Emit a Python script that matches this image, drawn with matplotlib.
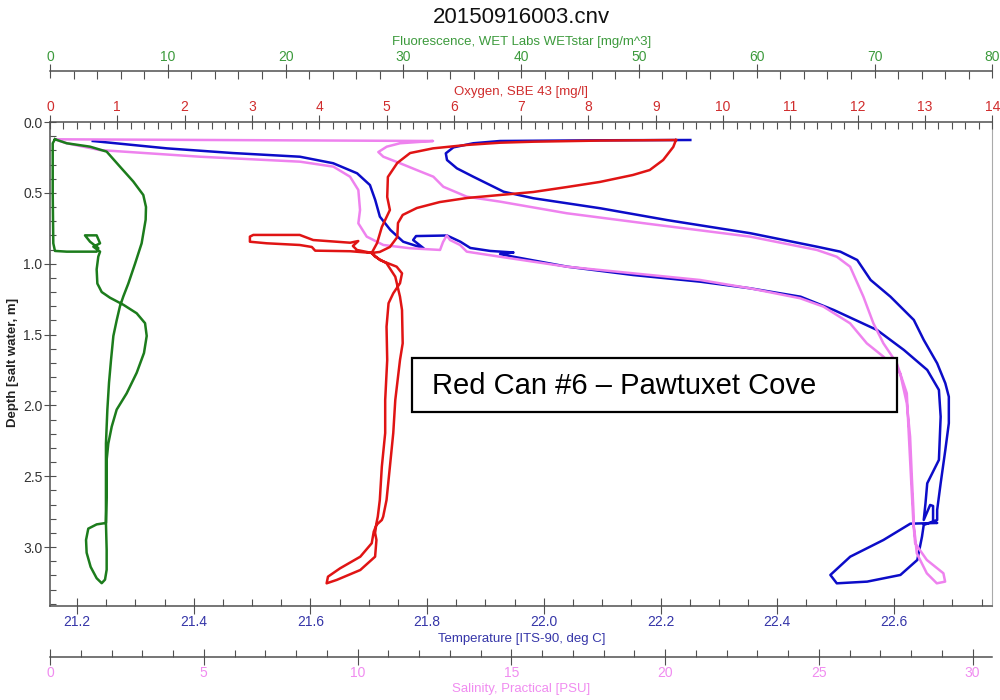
import matplotlib
matplotlib.use("Agg")
import matplotlib.pyplot as plt
from matplotlib.patches import Rectangle
from matplotlib.ticker import MultipleLocator, FormatStrFormatter

plt.rcParams['font.family'] = ['Liberation Sans', 'DejaVu Sans']

# fluorescence profile (mg/m^3) and depth (m)
fluor = [0.42, 1.42, 3.40, 4.81, 5.94, 7.07, 7.92, 8.15, 8.12, 7.78, 7.22, 6.65, 6.23, 5.94,
         5.66, 5.38, 5.18, 5.01, 4.87, 4.75, 4.75, 4.75, 4.75, 4.81, 4.81, 4.67, 4.39,
         3.96, 3.45, 3.11, 3.06, 3.25, 3.96, 4.75, 4.81, 4.81, 4.95, 5.24, 5.66, 6.51, 7.36,
         7.98, 8.21, 8.07, 7.36, 6.23, 5.09, 4.39, 4.02, 3.96, 4.10, 4.25, 3.68, 4.25, 3.96,
         2.97, 3.40, 4.10, 3.96, 3.11, 1.42, 0.42, 0.28, 0.23, 0.23, 0.42]
fluor_depth = [0.122, 0.15, 0.174, 0.209, 0.315, 0.42, 0.515, 0.60, 0.69, 0.856, 1.0, 1.14, 1.23, 1.30,
               1.40, 1.51, 1.68, 1.84, 2.03, 2.27, 2.50, 2.74, 2.83, 3.02, 3.16, 3.23, 3.255,
               3.22, 3.14, 3.04, 2.95, 2.87, 2.84, 2.83, 2.62, 2.385, 2.27, 2.15, 2.03, 1.915, 1.77,
               1.63, 1.51, 1.42, 1.35, 1.29, 1.24, 1.20, 1.14, 1.04, 0.95, 0.915, 0.88, 0.856, 0.80,
               0.80, 0.845, 0.89, 0.915, 0.915, 0.915, 0.91, 0.856, 0.50, 0.15, 0.122]

# oxygen (mg/l)
oxygen = [9.30, 9.26, 9.11, 8.91, 8.66, 8.17, 7.68, 7.18, 6.69, 6.20, 5.79, 5.45, 5.24, 5.17, 5.16, 5.05, 4.90, 4.78,
          4.56, 4.50, 4.58, 4.46, 3.91, 3.71, 3.02, 2.97, 2.97, 3.22, 3.71, 3.89, 3.94, 4.46, 4.78,
          4.90, 5.15, 5.23, 5.20, 5.10, 5.03, 5.00, 5.01, 4.98, 4.98, 4.93, 4.90, 4.87, 4.85, 4.83, 4.85,
          4.83, 4.61, 4.26, 4.11, 4.13, 4.31, 4.61, 4.78, 4.81, 4.85, 4.93,
          4.95, 5.00, 5.05, 5.10, 5.13, 5.20, 5.24, 5.23, 5.20, 5.13, 5.00, 4.83, 4.78,
          4.86, 4.93, 5.05, 5.01, 5.02, 5.16, 5.35, 5.69, 6.19, 6.69, 7.18, 8.17, 9.30]
oxygen_depth = [0.127, 0.176, 0.268, 0.339, 0.374, 0.423, 0.459, 0.494, 0.515, 0.536, 0.565, 0.607, 0.656, 0.713, 0.812, 0.882, 0.917, 0.924,
                0.903, 0.875, 0.840, 0.852, 0.833, 0.797, 0.797, 0.809, 0.845, 0.856, 0.868, 0.882, 0.908, 0.912, 0.924,
                0.974, 1.021, 1.068, 1.138, 1.209, 1.279, 1.445, 1.68, 1.962, 2.195, 2.433, 2.668, 2.785, 2.832, 2.90, 2.95,
                3.068, 3.162, 3.232, 3.256, 3.209, 3.15, 3.068, 2.973, 2.891, 2.844, 2.809,
                2.785, 2.668, 2.433, 2.195, 1.962, 1.68, 1.562, 1.327, 1.233, 1.092, 0.997, 0.951, 0.924,
                0.854, 0.741, 0.621, 0.529, 0.388, 0.289, 0.219, 0.186, 0.162, 0.146, 0.139, 0.131, 0.127]

# temperature (deg C)
temperature = [21.227, 21.354, 21.467, 21.582, 21.639, 21.680, 21.702, 21.711, 21.719, 21.737, 21.759, 21.794,
               21.776, 21.781, 21.834, 21.857, 21.874, 21.908, 21.948, 21.925, 21.948,
               22.040, 22.153, 22.268, 22.354, 22.440, 22.497, 22.571, 22.617, 22.657, 22.677,
               22.680, 22.677, 22.657, 22.654, 22.651,
               22.662, 22.667, 22.667, 22.674, 22.628,
               22.582, 22.525, 22.491, 22.502, 22.554, 22.611, 22.640, 22.648, 22.651,
               22.674, 22.674, 22.680, 22.688, 22.694, 22.694, 22.688, 22.674, 22.651, 22.634,
               22.594, 22.560, 22.537, 22.508, 22.468, 22.354, 22.211, 22.097, 21.982, 21.931,
               21.908, 21.879, 21.851, 21.834, 21.832, 21.845, 21.879, 21.925, 22.097, 22.251]
temperature_depth = [0.134, 0.186, 0.219, 0.245, 0.291, 0.362, 0.445, 0.550, 0.668, 0.762, 0.845, 0.891,
                     0.833, 0.805, 0.801, 0.845, 0.889, 0.910, 0.921, 0.932, 0.951,
                     1.021, 1.080, 1.127, 1.174, 1.233, 1.327, 1.468, 1.609, 1.750, 1.891,
                     2.080, 2.385, 2.550, 2.691, 2.809,
                     2.703, 2.710, 2.823, 2.830, 2.835,
                     2.95, 3.068, 3.197, 3.256, 3.244, 3.197, 3.091, 2.927, 2.844,
                     2.809, 2.738, 2.55, 2.315, 2.126, 1.939, 1.844, 1.703, 1.538, 1.397,
                     1.233, 1.115, 0.974, 0.915, 0.880, 0.785, 0.692, 0.609, 0.538, 0.492,
                     0.445, 0.386, 0.327, 0.268, 0.221, 0.179, 0.150, 0.134, 0.129, 0.127]

# salinity (PSU)
salinity = [0.163, 0.543, 1.626, 4.878, 8.130, 9.213, 9.756, 10.026, 10.081, 10.026, 10.299, 10.839, 11.707, 12.683,
            12.78, 12.90, 13.008, 13.333, 13.551,
            14.634, 16.803, 18.969, 21.138, 22.764, 24.390, 25.148, 26.016, 26.559, 27.099,
            27.642, 27.860, 27.967, 28.023, 28.075, 28.075,
            28.130, 28.510, 29.050, 29.106, 28.836, 28.510, 28.185, 28.130, 28.075,
            28.023, 27.967, 27.912, 27.860, 27.535, 27.099, 26.774, 26.449, 26.016, 25.584,
            24.933, 22.764, 19.512, 16.803, 14.634, 13.551, 12.790, 12.465, 11.925, 11.382,
            10.839, 10.676, 10.950, 11.382, 12.455, 0.163]
salinity_depth = [0.122, 0.150, 0.198, 0.245, 0.280, 0.315, 0.386, 0.480, 0.621, 0.715, 0.809, 0.868, 0.891, 0.903,
                  0.847, 0.801, 0.833, 0.868, 0.915,
                  0.951, 1.021, 1.068, 1.115, 1.174, 1.244, 1.303, 1.421, 1.562, 1.656,
                  1.773, 1.985, 2.221, 2.503, 2.738, 2.832,
                  2.973, 3.091, 3.185, 3.244, 3.256, 3.185, 3.044, 2.927, 2.832,
                  2.620, 2.385, 2.150, 1.915, 1.703, 1.562, 1.421, 1.233, 1.021, 0.951,
                  0.903, 0.809, 0.720, 0.644, 0.562, 0.527, 0.457, 0.386, 0.339, 0.291,
                  0.245, 0.212, 0.174, 0.150, 0.134, 0.122]

axis_gray = '#505050'

fig = plt.figure(figsize=(10, 7), dpi=100)
ax = fig.add_axes([0.05, 0.1347, 0.9423, 0.691])

# depth + temperature (main axes)
ax.set_ylim(3.414, 0)
ax.set_xlim(21.1537, 22.7685)
ax.plot(temperature, temperature_depth, color='#0c0cc8', lw=1.8)
ax.xaxis.set_major_locator(MultipleLocator(0.2))
ax.xaxis.set_minor_locator(MultipleLocator(0.05))
ax.xaxis.set_major_formatter(FormatStrFormatter('%.1f'))
ax.yaxis.set_major_locator(MultipleLocator(0.5))
ax.yaxis.set_minor_locator(MultipleLocator(0.1))
ax.yaxis.set_major_formatter(FormatStrFormatter('%.1f'))
ax.tick_params(axis='x', which='major', direction='inout', length=12, width=0.8, color=axis_gray,
               labelcolor='#3535a8', labelsize=10, pad=1)
ax.tick_params(axis='x', which='minor', direction='in', length=5.3, width=0.8, color=axis_gray)
ax.tick_params(axis='y', which='major', direction='inout', length=8, width=0.8, color=axis_gray,
               labelcolor='#333333', labelsize=10, pad=1.5)
ax.tick_params(axis='y', which='minor', direction='in', length=4.5, width=0.8, color=axis_gray)
ax.spines['top'].set_visible(False)
ax.spines['right'].set_color('#aaaaaa')
ax.spines['right'].set_linewidth(0.8)
for s in ('left', 'bottom'):
    ax.spines[s].set_color(axis_gray)
    ax.spines[s].set_linewidth(1.1)

# salinity (offset bottom axis)
ax_sal = ax.twiny()
ax_sal.set_xlim(0, 30.64)
ax_sal.plot(salinity, salinity_depth, color='#ee82ee', lw=1.8)
ax_sal.xaxis.set_ticks_position('bottom')
ax_sal.spines['bottom'].set_position(('outward', 36.7))
ax_sal.xaxis.set_major_locator(MultipleLocator(5))
ax_sal.xaxis.set_minor_locator(MultipleLocator(1))
ax_sal.tick_params(axis='x', which='major', direction='inout', length=12, width=0.8, color=axis_gray,
                   labelcolor='#f08cf0', labelsize=10, pad=0.5)
ax_sal.tick_params(axis='x', which='minor', direction='in', length=5.3, width=0.8, color=axis_gray)

# oxygen (top axis)
ax_ox = ax.twiny()
ax_ox.set_xlim(0, 14)
ax_ox.plot(oxygen, oxygen_depth, color='#e01414', lw=1.8)
ax_ox.xaxis.set_major_locator(MultipleLocator(1))
ax_ox.xaxis.set_minor_locator(MultipleLocator(0.2))
ax_ox.tick_params(axis='x', which='major', direction='inout', length=10, width=0.8, color=axis_gray,
                  labelcolor='#d02c2c', labelsize=10, pad=0.8)
ax_ox.tick_params(axis='x', which='minor', direction='in', length=5, width=0.8, color=axis_gray)

# fluorescence (offset top axis)
ax_fl = ax.twiny()
ax_fl.set_xlim(0, 80)
ax_fl.plot(fluor, fluor_depth, color='#1c7c1c', lw=1.8)
ax_fl.spines['top'].set_position(('outward', 36.9))
ax_fl.xaxis.set_major_locator(MultipleLocator(10))
ax_fl.xaxis.set_minor_locator(MultipleLocator(2))
ax_fl.tick_params(axis='x', which='major', direction='inout', length=10, width=0.8, color=axis_gray,
                  labelcolor='#3c9a3c', labelsize=10, pad=0)
ax_fl.tick_params(axis='x', which='minor', direction='in', length=5.5, width=0.8, color=axis_gray)

for a, side in ((ax_sal, 'bottom'), (ax_ox, 'top'), (ax_fl, 'top')):
    for s in ('left', 'right', 'top', 'bottom'):
        a.spines[s].set_visible(s == side)
    a.spines[side].set_color(axis_gray)
    a.spines[side].set_linewidth(1.1)

# titles and axis names
fig.text(0.5215, 0.9757, '20150916003.cnv', ha='center', va='center', fontsize=16, color='#111111')
fig.text(0.5215, 0.9396, 'Fluorescence, WET Labs WETstar [mg/m^3]', ha='center', va='center',
         fontsize=9.5, color='#3c9a3c')
fig.text(0.5215, 0.869, 'Oxygen, SBE 43 [mg/l]', ha='center', va='center', fontsize=9.5, color='#d02c2c')
fig.text(0.5215, 0.0871, 'Temperature [ITS-90, deg C]', ha='center', va='center', fontsize=9.5, color='#3535a8')
fig.text(0.5215, 0.0157, 'Salinity, Practical [PSU]', ha='center', va='center', fontsize=9.5, color='#f08cf0')
fig.text(0.013, 0.4829, 'Depth [salt water, m]', ha='center', va='center', rotation=90,
         fontsize=9.5, fontweight='bold', color='#222222')

# station label box
ax_fl.add_patch(Rectangle((0.384, 0.401), 0.5145, 0.111, transform=ax_fl.transAxes,
                          facecolor='white', edgecolor='black', lw=1.6, zorder=5))
ax_fl.text(0.4054, 0.455, 'Red Can #6 \u2013 Pawtuxet Cove', transform=ax_fl.transAxes,
           ha='left', va='center', fontsize=21, color='black', zorder=6)

fig.savefig('out.png', dpi=100)
